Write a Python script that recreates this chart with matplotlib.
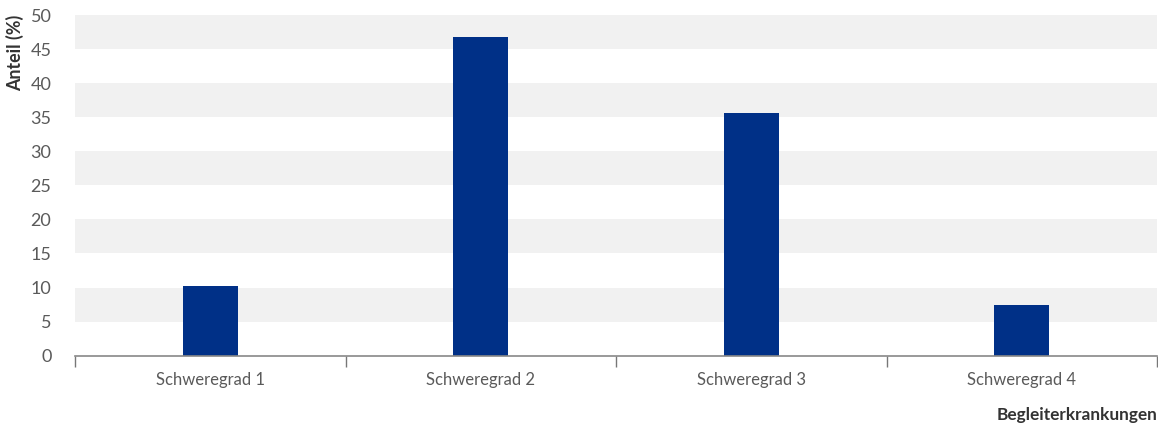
import matplotlib.pyplot as plt
import numpy as np

categories = ['Schweregrad 1', 'Schweregrad 2', 'Schweregrad 3', 'Schweregrad 4']
anteil = [10.2, 46.8, 35.6, 7.4]
y_ticks = [0, 5, 10, 15, 20, 25, 30, 35, 40, 45, 50]

plt.rcParams['font.family'] = ['Lato', 'DejaVu Sans']

fig = plt.figure(figsize=(11.58, 4.28), dpi=100)
ax = fig.add_axes([75/1158, 1 - 355.7/428, 1082/1158, (355.7 - 15)/428])

# grey bands every other 5 %
for lo in range(5, 50, 10):
    ax.axhspan(lo, lo + 5, color='#f1f1f1', lw=0, zorder=0)

x = np.arange(len(categories))
ax.bar(x, anteil, width=0.205, color='#003087', zorder=2)

ax.set_xlim(-0.5, len(categories) - 0.5)
ax.set_ylim(0, 50)
ax.set_yticks(y_ticks)
ax.set_yticklabels([str(v) for v in y_ticks])
ax.set_xticks(x)
ax.set_xticklabels(categories)
ax.set_xticks(np.arange(-0.5, len(categories), 1), minor=True)

ax.tick_params(axis='y', length=0, pad=17, labelsize=13, labelcolor='#5a5a5a')
ax.tick_params(axis='x', which='major', length=0, pad=12, labelsize=12, labelcolor='#5a5a5a')
ax.tick_params(axis='x', which='minor', length=8, width=1, color='#777777', direction='out')

for s in ['top', 'right', 'left']:
    ax.spines[s].set_visible(False)
ax.spines['bottom'].set_color('#888888')
ax.spines['bottom'].set_linewidth(1.2)

fig.text(15/1158, 1 - 15/428, 'Anteil (%)', rotation=90, ha='center', va='top',
         fontsize=12.8, fontweight='bold', color='#333333')
fig.text(1157/1158, 1 - 415/428, 'Begleiterkrankungen', ha='right', va='center',
         fontsize=12.4, fontweight='bold', color='#333333')

fig.savefig('out.png', dpi=100)
